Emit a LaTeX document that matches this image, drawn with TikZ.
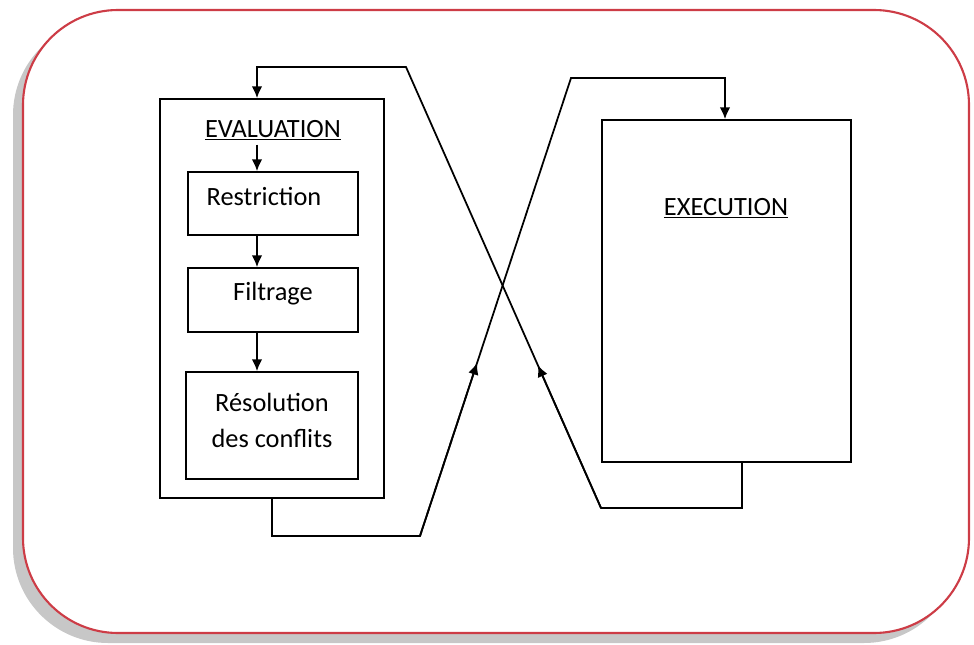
\documentclass[tikz,border=0pt]{standalone}
\usepackage{fontspec}
\setmainfont{Carlito}
\usetikzlibrary{arrows.meta,calc}

\definecolor{cadre}{RGB}{205,60,70}

\tikzset{
  stage/.style={draw, line width=1.5pt, inner sep=0pt, align=center},
}

\begin{document}
\begin{tikzpicture}[x=0.03cm, y=-0.03cm, >={Latex[length=10pt,width=9pt]},
    line width=1.5pt, font=\fontsize{22.5}{31}\selectfont]
    \useasboundingbox (0,0) rectangle (974,645);

    % cadre et ombre
    \fill[black!22, rounded corners=2.85cm] (13,20) rectangle (959,643);
    \draw[cadre, line width=1.8pt, fill=white, rounded corners=2.85cm] (23,10) rectangle (969,633);

    % evaluation
    \node[stage, minimum width=6.72cm, minimum height=11.97cm] (evalbox) at (272,298.5) {};
    \node (evaltitle) at (273,130) {\underline{EVALUATION}};
    \coordinate (colonne) at (257,130);
    \node[stage, minimum width=5.1cm, minimum height=1.89cm,
        label={[xshift=-0.27cm, yshift=0.2cm]center:Restriction}] (restr) at (273,203.5) {};
    \node[stage, minimum width=5.1cm, minimum height=1.92cm,
        label={[yshift=0.2cm]center:Filtrage}] (filt) at (273,300) {};
    \node[stage, minimum width=5.16cm, minimum height=3.21cm,
        label={[align=center, yshift=0.15cm]center:R\'esolution\\des conflits}] (resol) at (272,425.5) {};

    \draw[->] (colonne |- evaltitle.south) -- (colonne |- restr.north);
    \draw[->] (colonne |- restr.south) -- (colonne |- filt.north);
    \draw[->] (colonne |- filt.south) -- (colonne |- resol.north);

    % execution
    \node[stage, minimum width=7.47cm, minimum height=10.26cm] (execbox) at (726.5,291) {};
    \node (exectitle) at (726,208) {\underline{EXECUTION}};

    % boucle execution -> evaluation
    \coordinate (r1) at (742,508);
    \coordinate (r2) at (601,508);
    \coordinate (r3) at (406,67);
    \coordinate (r4) at (257,67);
    \draw[->] (execbox.south -| r1) -- (r1) -- (r2) -- (r3) -- (r4) -- (evalbox.north -| r4);
    \draw[->] (r2) -- ($(r2)!0.324!(r3)$);

    % boucle evaluation -> execution
    \coordinate (l1) at (272,536);
    \coordinate (l2) at (420,536);
    \coordinate (l3) at (571,78);
    \coordinate (l4) at (725,78);
    \draw[->] (evalbox.south -| l1) -- (l1) -- (l2) -- (l3) -- (l4) -- (execbox.north -| l4);
    \draw[->] (l2) -- ($(l2)!0.378!(l3)$);
\end{tikzpicture}
\end{document}
